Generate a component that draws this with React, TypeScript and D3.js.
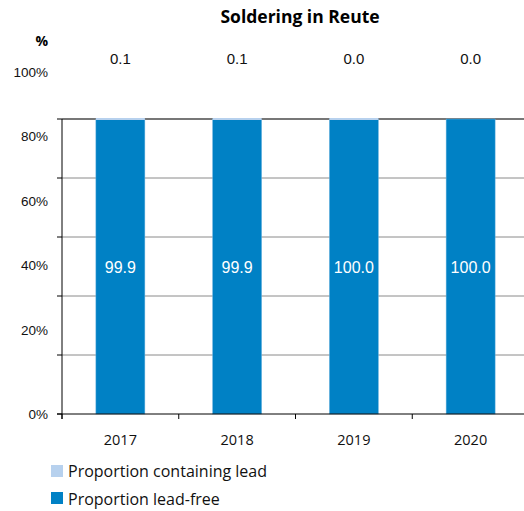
import React from "react";
import * as d3 from "d3";

const years = ["2017", "2018", "2019", "2020"];
const leadFree = [99.9, 99.9, 99.96, 100.0];
const containingLead = [0.1, 0.1, 0.04, 0.0];
const yTickValues = [0, 20, 40, 60, 80, 100];
const gridValues = [0, 20, 40, 60, 80, 100];

const W = 524;
const H = 511;
const DARK = "#0081C5";
const LIGHT = "#B7D1EE";

export default function App() {
  const x = d3.scaleBand<string>().domain(years).range([62, 529]).paddingInner(0).paddingOuter(0);
  const y = d3.scaleLinear().domain([0, 100]).range([414, 119]);
  const labelY = d3.scaleLinear().domain([0, 100]).range([394, 72]);
  const barW = 49;
  const sansA = "'Liberation Sans', Arial, sans-serif";
  const sansC = "'Open Sans', 'Noto Sans', sans-serif";

  return (
    <svg width={W} height={H} style={{ position: "absolute", left: 0, top: 0 }}>
      <text x={300} y={23} textAnchor="middle" fontFamily={sansC} fontWeight="bold" fontSize={17.5}>
        Soldering in Reute
      </text>
      <text x={48} y={46} textAnchor="end" fontFamily={sansC} fontWeight="bold" fontSize={14}>%</text>

      {gridValues.map((v) => (
        <g key={v}>
          {v > 0 && (
            <line x1={62} x2={W} y1={y(v)} y2={y(v)} stroke={v === 100 ? "#777" : "#8a8a8a"} strokeWidth={v === 100 ? 2 : 1} />
          )}
          <line x1={57} x2={62} y1={y(v)} y2={y(v)} stroke="#000" strokeWidth={1} />
        </g>
      ))}

      {yTickValues.map((v) => (
        <text key={v} x={48} y={(v === 0 ? y(0) : labelY(v)) + 5} textAnchor="end" fontFamily={sansA} fontSize={13.5} fill="#111">
          {v}%
        </text>
      ))}

      {years.map((yr, i) => {
        const cx = (x(yr) as number) + x.bandwidth() / 2;
        const x0 = cx - barW / 2;
        const lf = leadFree[i];
        const cl = containingLead[i];
        return (
          <g key={yr}>
            <rect x={x0} y={y(lf)} width={barW} height={y(0) - y(lf)} fill={DARK} stroke="#6fb4e0" strokeWidth={0.5} />
            {cl > 0 && (
              <rect x={x0} y={y(lf + cl) - 1} width={barW} height={Math.max(2, y(lf) - y(lf + cl) + 1)} fill={LIGHT} />
            )}
            <text x={cx} y={(y(0) + y(lf)) / 2 + 6} textAnchor="middle" fontFamily={sansA} fontSize={16} fill="#fff">
              {lf.toFixed(1)}
            </text>
            <text x={cx} y={64} textAnchor="middle" fontFamily={sansA} fontSize={15} fill="#111">
              {cl.toFixed(1)}
            </text>
            <text x={cx} y={445} textAnchor="middle" fontFamily={sansC} fontSize={14.5} fill="#111">
              {yr}
            </text>
          </g>
        );
      })}

      <line x1={62} x2={62} y1={119} y2={419} stroke="#000" strokeWidth={1} />
      <line x1={57} x2={W} y1={414} y2={414} stroke="#000" strokeWidth={1} />
      {years.map((yr) => (
        <line key={yr} x1={x(yr) as number} x2={x(yr) as number} y1={414} y2={419} stroke="#000" strokeWidth={1} />
      ))}

      <rect x={51} y={465} width={12} height={12} fill={LIGHT} />
      <text x={68} y={477} fontFamily={sansC} fontSize={16} fill="#111">Proportion containing lead</text>
      <rect x={51} y={492} width={12} height={12} fill={DARK} />
      <text x={68} y={505} fontFamily={sansC} fontSize={16} fill="#111">Proportion lead-free</text>
    </svg>
  );
}
